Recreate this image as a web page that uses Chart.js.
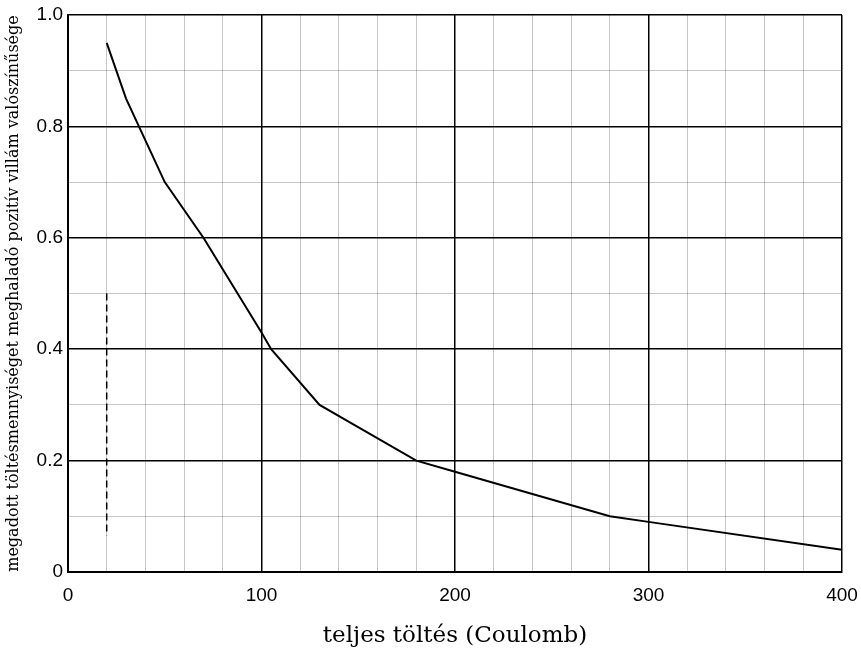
<!DOCTYPE html>
<html lang="hu">
<head>
    <meta charset="UTF-8">
    <title>Pozitív villám töltés</title>
    <script src="https://cdn.jsdelivr.net/npm/chart.js"></script>
    <style>
        html, body { margin: 0; padding: 0; background: #fff; }
        #doboz { width: 861px; height: 650px; }
    </style>
</head>
<body>
    <div id="doboz"><canvas id="grafikon"></canvas></div>

    <script>
        // adatok
        const toltes = [20, 30, 50, 70, 100, 105, 130, 180, 200, 280, 300, 400];
        const valoszinuseg = [0.95, 0.85, 0.70, 0.60, 0.43, 0.40, 0.30, 0.20, 0.18, 0.10, 0.09, 0.04];
        const szaggatottX = [20, 20];
        const szaggatottY = [0.50, 0.065];

        const cimY = 'megadott töltésmennyiséget meghaladó pozitív villám valószínűsége';
        const cimX = 'teljes töltés (Coulomb)';

        const pontok = (xs, ys) => xs.map((x, i) => ({ x: x, y: ys[i] }));

        const fo = (v, lepes) => Math.abs(Math.round(v / lepes) - v / lepes) < 1e-6;

        new Chart(document.getElementById('grafikon'), {
            type: 'line',
            data: {
                datasets: [{
                    data: pontok(toltes, valoszinuseg),
                    borderColor: '#000',
                    borderWidth: 2,
                    pointRadius: 0,
                    tension: 0
                }, {
                    data: pontok(szaggatottX, szaggatottY),
                    borderColor: '#000',
                    borderWidth: 1.5,
                    borderDash: [7, 4],
                    pointRadius: 0
                }]
            },
            options: {
                responsive: true,
                maintainAspectRatio: false,
                animation: false,
                layout: { padding: { left: 0, right: 19, top: 15, bottom: 0 } },
                plugins: {
                    legend: { display: false },
                    tooltip: { enabled: false }
                },
                scales: {
                    x: {
                        type: 'linear',
                        min: 0,
                        max: 400,
                        afterFit: (s) => {
                            s.height = 78;
                            s.paddingLeft = 0;
                            s.paddingRight = 0;
                        },
                        border: { color: '#000', width: 2 },
                        grid: {
                            drawTicks: false,
                            color: (c) => fo(c.tick.value, 100) ? '#000' : 'rgba(0,0,0,0.22)',
                            lineWidth: (c) => fo(c.tick.value, 100) ? 1.5 : 1
                        },
                        ticks: {
                            stepSize: 20,
                            padding: 12,
                            color: '#000',
                            maxRotation: 0,
                            autoSkip: false,
                            font: { family: 'Liberation Sans', size: 19 },
                            callback: (v) => fo(v, 100) ? String(v) : ''
                        },
                        title: {
                            display: true,
                            text: cimX,
                            color: '#000',
                            font: { family: 'DejaVu Serif', size: 23 },
                            padding: { top: 0, bottom: 0 }
                        }
                    },
                    y: {
                        min: 0,
                        max: 1,
                        afterFit: (s) => {
                            s.width = 68;
                            s.paddingTop = 0;
                            s.paddingBottom = 0;
                        },
                        border: { color: '#000', width: 2 },
                        grid: {
                            drawTicks: false,
                            color: (c) => fo(c.tick.value, 0.2) ? '#000' : 'rgba(0,0,0,0.22)',
                            lineWidth: (c) => fo(c.tick.value, 0.2) ? 1.5 : 1
                        },
                        ticks: {
                            stepSize: 0.1,
                            padding: 5,
                            color: '#000',
                            autoSkip: false,
                            font: { family: 'Liberation Sans', size: 19 },
                            callback: (v) => {
                                if (!fo(v, 0.2)) return '';
                                return Math.abs(v) < 1e-9 ? '0' : v.toFixed(1);
                            }
                        },
                        title: {
                            display: true,
                            text: cimY,
                            color: '#000',
                            font: { family: 'DejaVu Serif', size: 16 },
                            padding: { top: 4, bottom: 0 }
                        }
                    }
                }
            }
        });
    </script>
</body>
</html>
